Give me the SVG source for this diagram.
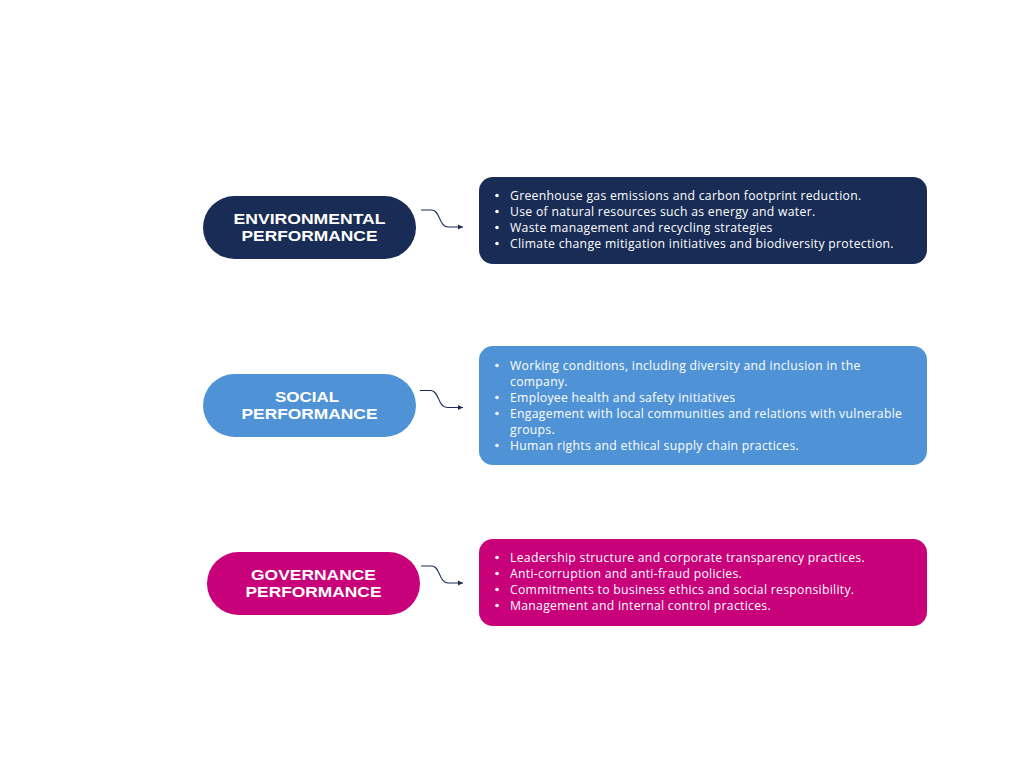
<svg xmlns="http://www.w3.org/2000/svg" width="1024" height="768" viewBox="0 0 1024 768">
<style>
.pt{font-family:"Liberation Sans",Arial,sans-serif;font-weight:700;font-size:14.8px;fill:#fff;text-anchor:middle}
.bt{font-family:"Open Sans","DejaVu Sans",sans-serif;font-size:12.2px;letter-spacing:0.3px;fill:#fff}
.con{fill:none;stroke:#1b2d57;stroke-width:1.2}
</style>
<defs>
<marker id="ah" viewBox="0 0 6 6" refX="5" refY="3" markerWidth="6" markerHeight="6" orient="auto" markerUnits="userSpaceOnUse">
<path d="M0,0.5 L5,3 L0,5.5 Z" fill="#1b2d57"/>
</marker>
</defs>
<rect width="1024" height="768" fill="#fff"/>
<g id="env-node">
<rect x="203" y="196" width="213" height="63" rx="31.5" fill="#182c55"/>
<text class="pt"><tspan x="309.5" y="223.5" textLength="152" lengthAdjust="spacingAndGlyphs">ENVIRONMENTAL</tspan><tspan x="309.5" y="240.5" textLength="136" lengthAdjust="spacingAndGlyphs">PERFORMANCE</tspan></text>
</g>
<g id="env-box">
<rect x="479" y="177" width="448" height="87" rx="14" fill="#182c55"/>
<g class="bt">
<circle cx="497" cy="195.5" r="1.8" fill="#fff"/><text x="510" y="199.5">Greenhouse gas emissions and carbon footprint reduction.</text>
<circle cx="497" cy="211.5" r="1.8" fill="#fff"/><text x="510" y="215.5">Use of natural resources such as energy and water.</text>
<circle cx="497" cy="227.5" r="1.8" fill="#fff"/><text x="510" y="231.5">Waste management and recycling strategies</text>
<circle cx="497" cy="243.5" r="1.8" fill="#fff"/><text x="510" y="247.5">Climate change mitigation initiatives and biodiversity protection.</text>
</g>
</g>
<g id="soc-node">
<rect x="203" y="374" width="213" height="63" rx="31.5" fill="#4f93d6"/>
<text class="pt"><tspan x="307" y="401.5" textLength="64" lengthAdjust="spacingAndGlyphs">SOCIAL</tspan><tspan x="309.5" y="418.5" textLength="136" lengthAdjust="spacingAndGlyphs">PERFORMANCE</tspan></text>
</g>
<g id="soc-box">
<rect x="479" y="346" width="448" height="119" rx="14" fill="#4f93d6"/>
<g class="bt">
<circle cx="497" cy="365.5" r="1.8" fill="#fff"/><text x="510" y="369.5">Working conditions, including diversity and inclusion in the<tspan x="510" y="385.5">company.</tspan></text>
<circle cx="497" cy="397.5" r="1.8" fill="#fff"/><text x="510" y="401.5">Employee health and safety initiatives</text>
<circle cx="497" cy="413.5" r="1.8" fill="#fff"/><text x="510" y="417.5">Engagement with local communities and relations with vulnerable<tspan x="510" y="433.5">groups.</tspan></text>
<circle cx="497" cy="445.5" r="1.8" fill="#fff"/><text x="510" y="449.5">Human rights and ethical supply chain practices.</text>
</g>
</g>
<g id="gov-node">
<rect x="207" y="552" width="213" height="63" rx="31.5" fill="#c8007a"/>
<text class="pt"><tspan x="313.5" y="579.5" textLength="125" lengthAdjust="spacingAndGlyphs">GOVERNANCE</tspan><tspan x="313.5" y="596.5" textLength="136" lengthAdjust="spacingAndGlyphs">PERFORMANCE</tspan></text>
</g>
<g id="gov-box">
<rect x="479" y="539" width="448" height="87" rx="14" fill="#c8007a"/>
<g class="bt">
<circle cx="497" cy="557.5" r="1.8" fill="#fff"/><text x="510" y="561.5">Leadership structure and corporate transparency practices.</text>
<circle cx="497" cy="573.5" r="1.8" fill="#fff"/><text x="510" y="577.5">Anti-corruption and anti-fraud policies.</text>
<circle cx="497" cy="589.5" r="1.8" fill="#fff"/><text x="510" y="593.5">Commitments to business ethics and social responsibility.</text>
<circle cx="497" cy="605.5" r="1.8" fill="#fff"/><text x="510" y="609.5">Management and internal control practices.</text>
</g>
</g>
<g id="connectors">
<path class="con" marker-end="url(#ah)" d="M421,210 L432,210 C440,210 439,227 448,227 L463,227"/>
<path class="con" marker-end="url(#ah)" d="M420,390.5 L431,390.5 C439,390.5 438,407.5 447,407.5 L463,407.5"/>
<path class="con" marker-end="url(#ah)" d="M421,566 L432,566 C440,566 439,583 448,583 L463,583"/>
</g>
</svg>
